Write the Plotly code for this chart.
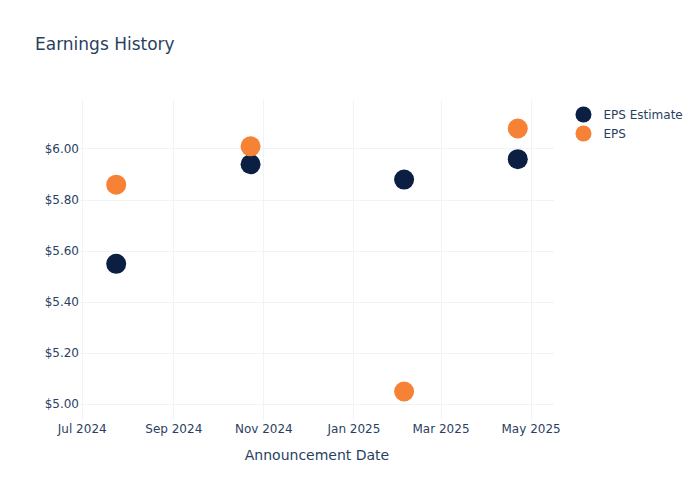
import plotly.graph_objects as go

# Dates d'annonce et valeurs BPA
dates = ["2024-07-24", "2024-10-23", "2025-02-04", "2025-04-22"]
eps_estimate = [5.55, 5.94, 5.88, 5.96]
eps_actual = [5.86, 6.01, 5.05, 6.08]

fig = go.Figure()

fig.add_trace(go.Scatter(x=dates, y=eps_estimate, mode="markers",
                         name="EPS Estimate",
                         marker=dict(color="#0b1f42", size=20)))
fig.add_trace(go.Scatter(x=dates, y=eps_actual, mode="markers",
                         name="EPS",
                         marker=dict(color="#f58235", size=20)))

# La page ajoute une marge de 8 px : on compense
fig.update_layout(template="plotly_white",
                  font=dict(family="DejaVu Sans"),
                  title=dict(text="Earnings History", x=27/692,
                             y=1 - 36/492, yanchor="middle"),
                  xaxis=dict(title="Announcement Date", gridcolor="#f0f3f8"),
                  yaxis=dict(tickprefix="$", tickformat=".2f", gridcolor="#f0f3f8"),
                  width=692, height=492,
                  margin=dict(l=72, t=92, b=80))

fig.write_html("out.html")
